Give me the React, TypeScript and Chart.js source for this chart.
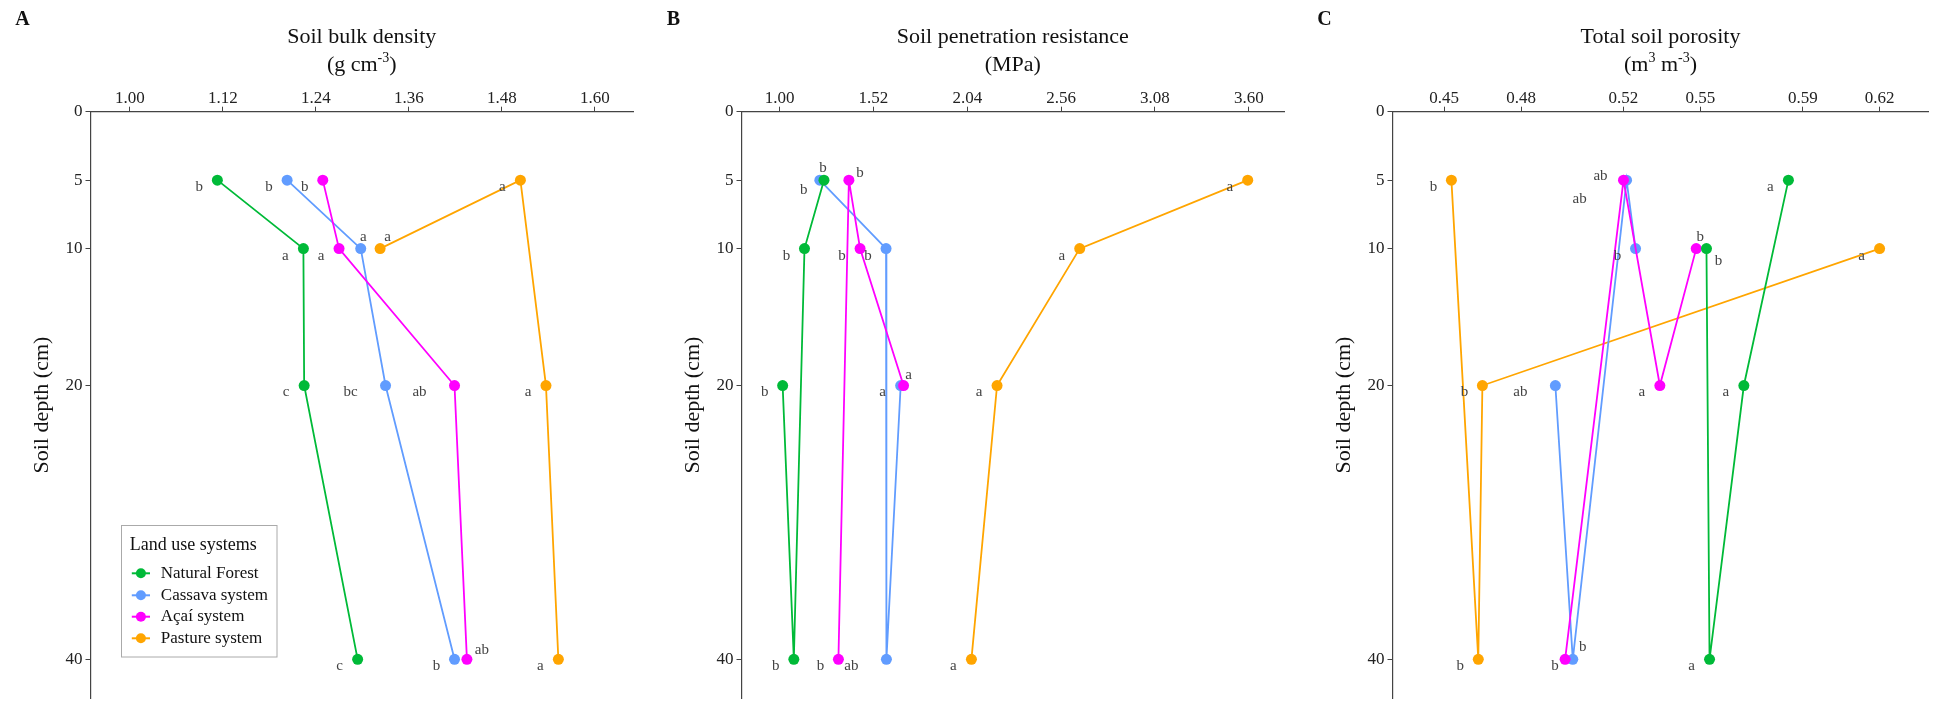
import React, { useEffect, useRef } from 'react';
import { Chart, registerables } from 'chart.js';

Chart.register(...registerables);

const FONT = "'Liberation Serif', 'Times New Roman', serif";

// ---------- data ----------
const depths = [5, 10, 20, 40];
const depthTicks = [0, 5, 10, 20, 40];
const systems = ['Natural Forest', 'Cassava system', 'Açaí system', 'Pasture system'];
const systemColors = ['#00BA38', '#619CFF', '#FF00FF', '#FFA500'];
const drawOrder = [0, 2, 1, 3];

// A: Soil bulk density (g cm-3)
const bulkTicks = [1.0, 1.12, 1.24, 1.36, 1.48, 1.6];
const bulkForest = [1.113, 1.224, 1.225, 1.294];
const bulkCassava = [1.203, 1.298, 1.33, 1.419];
const bulkAcai = [1.249, 1.27, 1.419, 1.435];
const bulkPasture = [1.504, 1.323, 1.537, 1.553];
const bulkLettersForest = ['b', 'a', 'c', 'c'];
const bulkLettersCassava = ['b', 'a', 'bc', 'b'];
const bulkLettersAcai = ['b', 'a', 'ab', 'ab'];
const bulkLettersPasture = ['a', 'a', 'a', 'a'];

// B: Soil penetration resistance (MPa)
const penTicks = [1.0, 1.52, 2.04, 2.56, 3.08, 3.6];
const penForest = [1.246, 1.138, 1.017, 1.079];
const penCassava = [1.223, 1.59, 1.671, 1.592];
const penAcai = [1.384, 1.446, 1.687, 1.326];
const penPasture = [3.594, 2.663, 2.205, 2.063];
const penLettersForest = ['b', 'b', 'b', 'b'];
const penLettersCassava = ['b', 'b', 'a', 'ab'];
const penLettersAcai = ['b', 'b', 'a', 'b'];
const penLettersPasture = ['a', 'a', 'a', 'a'];

// C: Total soil porosity (m3 m-3)
const porTicks = [0.45, 0.48, 0.52, 0.55, 0.59, 0.62];
const porForest = [0.5844, 0.5524, 0.567, 0.5536];
const porCassava = [0.5212, 0.5247, 0.4934, 0.5002];
const porAcai = [0.52, 0.5484, 0.5342, 0.4972];
const porPasture = [0.4528, 0.62, 0.4649, 0.4633];
const porLettersForest = ['a', 'b', 'a', 'a'];
const porLettersCassava = ['ab', 'b', 'ab', 'b'];
const porLettersAcai = ['ab', 'b', 'a', 'b'];
const porLettersPasture = ['b', 'a', 'b', 'b'];

// ---------- layout ----------
// label nudges (px) for letters that are not at the default left-below place
const labelNudge: Record<string, [number, number]> = {
  'A-1-1': [2.5, -12],
  'A-3-1': [7.5, -12],
  'A-2-3': [15, -9],
  'B-0-0': [-1, -12],
  'B-1-0': [-16, 10],
  'B-2-0': [11, -7],
  'B-2-2': [5, -10],
  'C-2-0': [-23, -4],
  'C-1-0': [-47, 19],
  'C-2-1': [4, -12],
  'C-0-1': [12, 12],
  'C-1-3': [10, -12],
  'C-2-3': [-10, 7],
};

const AXIS_TOP = 111.7;
const Y_AXIS_W = 90.5;
const Y_MAX = 42.86;

type Run = [string, boolean];
interface Panel {
  key: string;
  title: string;
  unit: Run[];
  ticks: number[];
  min: number;
  max: number;
  values: number[][];
  letters: string[][];
  left: number;
  width: number;
  padRight: number;
  legend: boolean;
}

const panels: Panel[] = [
  {
    key: 'A',
    title: 'Soil bulk density',
    unit: [['(g cm', false], ['-3', true], [')', false]],
    ticks: bulkTicks,
    min: 0.9493,
    max: 1.6493,
    values: [bulkForest, bulkCassava, bulkAcai, bulkPasture],
    letters: [bulkLettersForest, bulkLettersCassava, bulkLettersAcai, bulkLettersPasture],
    left: 0,
    width: 651,
    padRight: 18,
    legend: true,
  },
  {
    key: 'B',
    title: 'Soil penetration resistance',
    unit: [['(MPa)', false]],
    ticks: penTicks,
    min: 0.789,
    max: 3.795,
    values: [penForest, penCassava, penAcai, penPasture],
    letters: [penLettersForest, penLettersCassava, penLettersAcai, penLettersPasture],
    left: 651,
    width: 651,
    padRight: 18,
    legend: false,
  },
  {
    key: 'C',
    title: 'Total soil porosity',
    unit: [['(m', false], ['3', true], [' m', false], ['-3', true], [')', false]],
    ticks: porTicks,
    min: 0.4298,
    max: 0.6391,
    values: [porForest, porCassava, porAcai, porPasture],
    letters: [porLettersForest, porLettersCassava, porLettersAcai, porLettersPasture],
    left: 1302,
    width: 632,
    padRight: 0,
    legend: false,
  },
];

function drawRuns(ctx: CanvasRenderingContext2D, runs: Run[], cx: number, y: number) {
  const big = `22px ${FONT}`;
  const small = `14px ${FONT}`;
  let total = 0;
  const widths = runs.map(([t, sup]) => {
    ctx.font = sup ? small : big;
    const w = ctx.measureText(t).width;
    total += w;
    return w;
  });
  let x = cx - total / 2;
  ctx.textAlign = 'left';
  ctx.textBaseline = 'middle';
  runs.forEach(([t, sup], i) => {
    ctx.font = sup ? small : big;
    ctx.fillText(t, x, sup ? y - 7 : y);
    x += widths[i];
  });
}

function makeDecor(p: Panel) {
  return {
    id: 'decor' + p.key,
    afterDraw(chart: any) {
      const ctx: CanvasRenderingContext2D = chart.ctx;
      const area = chart.chartArea;
      const xs = chart.scales.x;
      const ys = chart.scales.y;
      ctx.save();
      ctx.fillStyle = '#111';
      // panel letter
      ctx.font = `bold 20px ${FONT}`;
      ctx.textAlign = 'center';
      ctx.textBaseline = 'middle';
      ctx.fillText(p.key, 22.5, 20);
      // title
      const cx = (area.left + area.right) / 2;
      ctx.font = `22px ${FONT}`;
      ctx.fillText(p.title, cx, 37);
      drawRuns(ctx, p.unit, cx, 65);
      // y title
      ctx.save();
      ctx.translate(42, (area.top + area.bottom) / 2);
      ctx.rotate(-Math.PI / 2);
      ctx.font = `22px ${FONT}`;
      ctx.textAlign = 'center';
      ctx.textBaseline = 'middle';
      ctx.fillText('Soil depth (cm)', 0, 0);
      ctx.restore();
      // letters
      ctx.font = `15px ${FONT}`;
      ctx.fillStyle = '#444';
      ctx.textAlign = 'center';
      ctx.textBaseline = 'middle';
      p.letters.forEach((arr, si) => {
        arr.forEach((txt, di) => {
          const px = xs.getPixelForValue(p.values[si][di]);
          const py = ys.getPixelForValue(depths[di]);
          const nudge = labelNudge[`${p.key}-${si}-${di}`] || [-18 - 17 * (txt.length - 1), 7];
          ctx.fillText(txt, px + nudge[0], py + nudge[1]);
        });
      });
      // legend
      if (p.legend) {
        ctx.fillStyle = '#fff';
        ctx.fillRect(121.5, 525.5, 155.5, 131.5);
        ctx.strokeStyle = '#aaa';
        ctx.lineWidth = 1;
        ctx.strokeRect(121.5, 525.5, 155.5, 131.5);
        ctx.fillStyle = '#111';
        ctx.textAlign = 'left';
        ctx.font = `18px ${FONT}`;
        ctx.fillText('Land use systems', 129.7, 545.7);
        const rowY = [573.3, 595.3, 616.7, 638.3];
        systems.forEach((name, i) => {
          ctx.strokeStyle = systemColors[i];
          ctx.lineWidth = 2;
          ctx.beginPath();
          ctx.moveTo(131.8, rowY[i]);
          ctx.lineTo(150, rowY[i]);
          ctx.stroke();
          ctx.fillStyle = systemColors[i];
          ctx.beginPath();
          ctx.arc(140.9, rowY[i], 5, 0, Math.PI * 2);
          ctx.fill();
          ctx.fillStyle = '#111';
          ctx.font = `17px ${FONT}`;
          ctx.fillText(name, 160.8, rowY[i]);
        });
      }
      ctx.restore();
    },
  };
}

function makeChart(canvas: HTMLCanvasElement, p: Panel) {
  const datasets = drawOrder.map((si) => {
    const pts = depths
      .map((d, i) => ({ x: p.values[si][i], y: d }))
      .sort((a, b) => a.x - b.x);
    return {
      label: systems[si],
      data: pts,
      showLine: true,
      borderColor: systemColors[si],
      backgroundColor: systemColors[si],
      borderWidth: 1.8,
      pointRadius: 5.5,
      pointHoverRadius: 5.5,
      pointBorderWidth: 0,
      tension: 0,
    };
  });
  const axisCommon = {
    grid: { display: true, drawOnChartArea: false, drawTicks: true, tickLength: 5, color: '#444', lineWidth: 1 },
    border: { display: true, color: '#444', width: 1.2 },
  };
  return new Chart(canvas, {
    type: 'scatter',
    data: { datasets } as any,
    options: {
      responsive: false,
      maintainAspectRatio: false,
      animation: false,
      devicePixelRatio: 1,
      events: [],
      layout: { padding: { left: 0, right: p.padRight, top: 0, bottom: 0 } },
      plugins: { legend: { display: false }, tooltip: { enabled: false }, title: { display: false } },
      scales: {
        x: {
          type: 'linear',
          position: 'top',
          min: p.min,
          max: p.max,
          afterBuildTicks: (s: any) => {
            s.ticks = p.ticks.map((v) => ({ value: v }));
          },
          afterFit: (s: any) => {
            s.height = AXIS_TOP;
          },
          ticks: {
            callback: (v: any) => Number(v).toFixed(2),
            font: { family: FONT, size: 17, lineHeight: 1 },
            color: '#222',
            padding: 0,
            maxRotation: 0,
            autoSkip: false,
          },
          ...axisCommon,
        },
        y: {
          type: 'linear',
          reverse: true,
          min: 0,
          max: Y_MAX,
          afterBuildTicks: (s: any) => {
            s.ticks = depthTicks.map((v) => ({ value: v }));
          },
          afterFit: (s: any) => {
            s.width = Y_AXIS_W;
          },
          ticks: {
            callback: (v: any) => String(v),
            font: { family: FONT, size: 17, lineHeight: 1 },
            color: '#222',
            padding: 3,
            autoSkip: false,
          },
          ...axisCommon,
        },
      },
    } as any,
    plugins: [makeDecor(p)],
  });
}

export default function App() {
  const refs = [useRef<HTMLCanvasElement>(null), useRef<HTMLCanvasElement>(null), useRef<HTMLCanvasElement>(null)];
  useEffect(() => {
    const charts = panels.map((p, i) => makeChart(refs[i].current as HTMLCanvasElement, p));
    return () => charts.forEach((c) => c.destroy());
  }, []);
  return (
    <div
      style={{
        position: 'absolute',
        left: 0,
        top: 0,
        width: 1934,
        height: 710,
        overflow: 'hidden',
        background: '#fff',
      }}
    >
      {panels.map((p, i) => (
        <canvas
          key={p.key}
          ref={refs[i]}
          width={p.width}
          height={710}
          style={{ position: 'absolute', left: p.left, top: 0, width: p.width, height: 710 }}
        />
      ))}
    </div>
  );
}
